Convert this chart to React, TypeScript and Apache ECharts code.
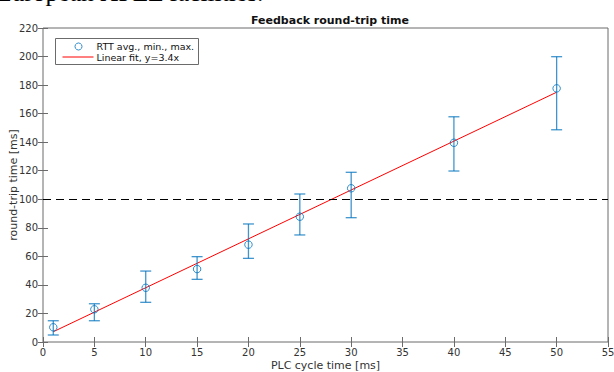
import React, { useEffect, useRef } from "react";
import * as echarts from "echarts";

const cycleTimes = [1, 5, 10, 15, 20, 25, 30, 40, 50];
const rttAvg = [10.3, 22.9, 38.0, 51.1, 68.2, 87.8, 107.7, 139.6, 177.7];
const rttMin = [4.9, 14.9, 27.8, 43.9, 58.6, 75.0, 87.1, 119.8, 148.7];
const rttMax = [14.9, 26.8, 49.7, 59.8, 82.7, 103.7, 118.9, 157.8, 199.9];
const fitX = [1, 50];
const fitY = [7.2, 175];
const thresholdValue = 100;
const xTicks = [0, 5, 10, 15, 20, 25, 30, 35, 40, 45, 50, 55];
const yTicks = [0, 20, 40, 60, 80, 100, 120, 140, 160, 180, 200, 220];

const BLUE = "#0072BD";
const AXIS = "#6b6b6b";
const LABEL = "#333333";
const FONT = "DejaVu Sans";

export default function App() {
  const ref = useRef<HTMLDivElement>(null);
  useEffect(() => {
    const chart = echarts.init(ref.current!, null, { renderer: "svg" });
    const tickAxisCommon = {
      axisLine: { show: false },
      axisTick: { show: true, inside: true, length: 5, lineStyle: { color: AXIS } },
      splitLine: { show: false },
    };
    chart.setOption({
      animation: false,
      backgroundColor: "#ffffff",
      title: {
        text: "Feedback round-trip time",
        left: 325,
        top: 10,
        textAlign: "center",
        textStyle: { fontFamily: FONT, fontSize: 11, fontWeight: "bold", color: "#111" },
      },
      grid: {
        left: 43,
        right: 6,
        top: 28,
        bottom: 30,
        containLabel: false,
        outerBoundsMode: "none",
        show: true,
        borderColor: AXIS,
        borderWidth: 1,
        backgroundColor: "transparent",
      },
      xAxis: [
        {
          type: "value",
          min: 0,
          max: 55,
          interval: 5,
          position: "bottom",
          ...tickAxisCommon,
          axisLabel: {
            fontFamily: FONT,
            fontSize: 10,
            color: LABEL,
            margin: 5,
            customValues: xTicks,
          },
          name: "PLC cycle time [ms]",
          nameLocation: "middle",
          nameGap: 18,
          nameMoveOverlap: false,
          nameTextStyle: { fontFamily: FONT, fontSize: 11, color: LABEL },
        },
        {
          type: "value",
          min: 0,
          max: 55,
          interval: 5,
          position: "top",
          ...tickAxisCommon,
          axisLabel: { show: false },
        },
      ],
      yAxis: [
        {
          type: "value",
          min: 0,
          max: 220,
          interval: 20,
          position: "left",
          ...tickAxisCommon,
          axisLabel: {
            fontFamily: FONT,
            fontSize: 10,
            color: LABEL,
            margin: 5,
            customValues: yTicks,
          },
          name: "round-trip time [ms]",
          nameLocation: "middle",
          nameGap: 24,
          nameMoveOverlap: false,
          nameTextStyle: { fontFamily: FONT, fontSize: 11, color: LABEL },
        },
        {
          type: "value",
          min: 0,
          max: 220,
          interval: 20,
          position: "right",
          ...tickAxisCommon,
          axisLabel: { show: false },
        },
      ],
      series: [
        {
          type: "line",
          name: "Linear fit",
          data: fitX.map((x, i) => [x, fitY[i]]),
          showSymbol: false,
          symbol: "none",
          lineStyle: { color: "#ff0000", width: 1 },
          z: 3,
          markLine: {
            silent: true,
            symbol: "none",
            label: { show: false },
            lineStyle: { color: "#000", width: 1, type: [8, 5] },
            data: [{ yAxis: thresholdValue }],
          },
        },
        {
          type: "custom",
          name: "RTT range",
          data: cycleTimes.map((x, i) => [x, rttMin[i], rttMax[i]]),
          renderItem: (params: any, api: any) => {
            const x = api.value(0);
            const lo = api.coord([x, api.value(1)]);
            const hi = api.coord([x, api.value(2)]);
            const hw = 5.5;
            const style = { stroke: BLUE, lineWidth: 1.3, opacity: 0.75 };
            return {
              type: "group",
              children: [
                { type: "line", shape: { x1: lo[0], y1: lo[1], x2: hi[0], y2: hi[1] }, style },
                { type: "line", shape: { x1: lo[0] - hw, y1: lo[1], x2: lo[0] + hw, y2: lo[1] }, style },
                { type: "line", shape: { x1: hi[0] - hw, y1: hi[1], x2: hi[0] + hw, y2: hi[1] }, style },
              ],
            };
          },
          z: 4,
        },
        {
          type: "scatter",
          name: "RTT avg",
          data: cycleTimes.map((x, i) => [x, rttAvg[i]]),
          symbol: "circle",
          symbolSize: 7.5,
          itemStyle: { color: "none", borderColor: BLUE, borderWidth: 1, opacity: 0.8 },
          z: 5,
        },
      ],
      graphic: [
        {
          type: "text",
          left: -4,
          top: -21,
          style: {
            text: "European XFEL facilities.",
            font: '25.5px "Liberation Serif"',
            fill: "#000",
          },
        },
        {
          type: "group",
          left: 55,
          top: 38,
          z: 100,
          children: [
            {
              type: "rect",
              shape: { x: 0, y: 0, width: 143, height: 26 },
              style: { fill: "#fff", stroke: AXIS, lineWidth: 1 },
            },
            {
              type: "circle",
              shape: { cx: 23, cy: 8, r: 3.5 },
              style: { fill: "none", stroke: BLUE, lineWidth: 1, opacity: 0.8 },
            },
            {
              type: "text",
              x: 41,
              y: 8,
              style: {
                text: "RTT avg., min., max.",
                font: `9.5px "${FONT}"`,
                fill: "#111",
                verticalAlign: "middle",
              },
            },
            {
              type: "line",
              shape: { x1: 7, y1: 18.5, x2: 38, y2: 18.5 },
              style: { stroke: "#ff0000", lineWidth: 1 },
            },
            {
              type: "text",
              x: 41,
              y: 18.5,
              style: {
                text: "Linear fit, y=3.4x",
                font: `9.5px "${FONT}"`,
                fill: "#111",
                verticalAlign: "middle",
              },
            },
          ],
        },
      ],
    });
    return () => chart.dispose();
  }, []);
  return (
    <div
      ref={ref}
      style={{ position: "fixed", left: 0, top: 0, width: 614, height: 372, background: "#fff" }}
    />
  );
}
